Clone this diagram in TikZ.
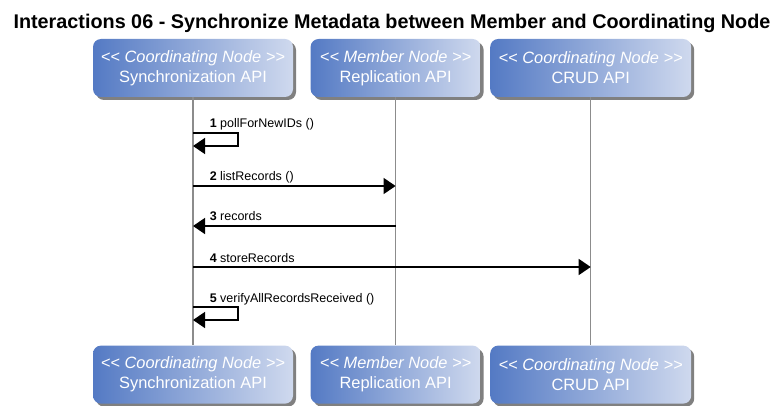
\documentclass[tikz,border=0pt]{standalone}
\usepackage{fontspec}
\setmainfont{Liberation Sans}
\usetikzlibrary{positioning,shadows,arrows.meta}
\definecolor{partLeft}{RGB}{84,122,196}
\definecolor{partRight}{RGB}{207,217,238}
\definecolor{lifeGray}{RGB}{140,140,140}

\begin{document}
\begin{tikzpicture}[x=1pt, y=-1pt, node distance=248pt and 17pt, semithick,
                    participant/.style={rounded corners=8pt, minimum height=58pt, inner sep=0pt, left color=partLeft, right color=partRight, text=white, align=center, font=\fontsize{16.4}{20}\selectfont, drop shadow={shadow xshift=3pt, shadow yshift=-3pt, fill=gray, opacity=1}},
                    msg/.style={-{Triangle[length=12pt, width=16pt]}, line width=1.5pt},
                    lbl/.style={anchor=base west, inner sep=0pt, xshift=16pt, yshift=5pt, font=\fontsize{12.5}{14}\selectfont},
                    lifeline/.style={lifeGray, line width=1.2pt}]
\useasboundingbox (0,0) rectangle (784,406);

% title
\node[anchor=base, font=\fontsize{19.8}{23}\selectfont\bfseries] (title) at (392,29) {Interactions 06 - Synchronize Metadata between Member and Coordinating Node};

% participants (top)
\node[participant, minimum width=200pt] (syncTop) at (193,68) {{\itshape <{}< Coordinating Node >{}>} \\ Synchronization API};
\node[participant, minimum width=170pt] (replTop) [right=of syncTop] {{\itshape <{}< Member Node >{}>} \\ Replication API};
\node[participant, minimum width=201pt] (crudTop) [right=9pt of replTop] {{\itshape <{}< Coordinating Node >{}>} \\ CRUD API};

% participants (bottom)
\node[participant, minimum width=200pt] (syncBot) [below=of syncTop] {{\itshape <{}< Coordinating Node >{}>} \\ Synchronization API};
\node[participant, minimum width=170pt] (replBot) [below=of replTop] {{\itshape <{}< Member Node >{}>} \\ Replication API};
\node[participant, minimum width=201pt] (crudBot) [below=of crudTop] {{\itshape <{}< Coordinating Node >{}>} \\ CRUD API};

% lifelines
\draw[lifeline] (syncTop) -- (syncBot);
\draw[lifeline] (replTop) -- (replBot);
\draw[lifeline] (crudTop) -- (crudBot);

% message points
\coordinate (s1) at (syncTop.south |- 0,133);
\coordinate (s1e) at (syncTop.south |- 0,146);
\coordinate (s2) at (syncTop.south |- 0,186);
\coordinate (r2) at (replTop.south |- 0,186);
\coordinate (s3) at (syncTop.south |- 0,226);
\coordinate (r3) at (replTop.south |- 0,226);
\coordinate (s4) at (syncTop.south |- 0,267);
\coordinate (c4) at (crudTop.south |- 0,267);
\coordinate (s5) at (syncTop.south |- 0,307);
\coordinate (s5e) at (syncTop.south |- 0,320);

% messages
\draw[msg] (s1) node[lbl] {\textbf{1} pollForNewIDs ()} -- ++(45,0) |- (s1e);
\path (s2) edge[msg] node[lbl, at start] {\textbf{2} listRecords ()} (r2);
\path (r3) edge[msg] node[lbl, at end] {\textbf{3} records} (s3);
\path (s4) edge[msg] node[lbl, at start] {\textbf{4} storeRecords} (c4);
\draw[msg] (s5) node[lbl] {\textbf{5} verifyAllRecordsReceived ()} -- ++(45,0) |- (s5e);

\end{tikzpicture}
\end{document}
